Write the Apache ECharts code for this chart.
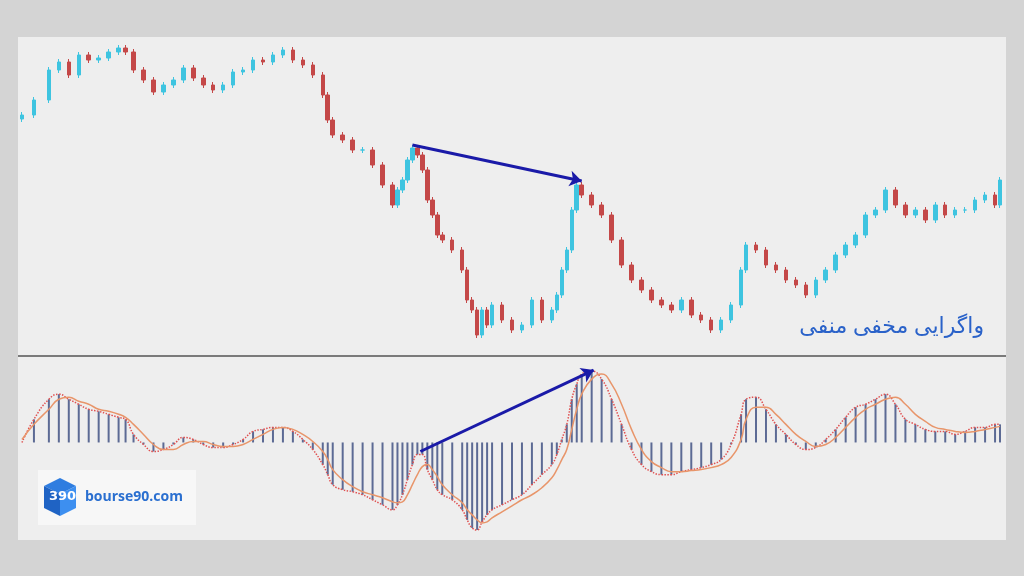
<!DOCTYPE html>
<html><head><meta charset="utf-8">
<script src="https://cdn.jsdelivr.net/npm/echarts@6/dist/echarts.min.js"></script>
<style>html,body{margin:0;background:#d4d4d4}#c{width:1024px;height:576px}</style>
</head><body><div id="c"></div>
<script>
// bar index (time position) of each sample
var days = [0,12,27,37,47,57,67,77,87,97,104,112,122,132,142,152,162,172,182,192,202,212,222,232,242,252,262,272,282,292,302,307,312,322,332,342,352,362,372,377,382,387,392,397,402,407,412,417,422,432,442,447,452,457,462,467,472,482,492,502,512,522,532,537,542,547,552,557,562,572,582,592,602,612,622,632,642,652,662,672,682,692,702,712,722,727,737,747,757,767,777,787,797,807,817,827,837,847,857,867,877,887,897,907,917,927,937,947,957,967,977,982];
var closes = [285,300,330,338,325,345,340,342,348,352,348,330,320,308,315,320,332,322,315,310,315,328,330,340,338,345,350,340,335,325,305,280,265,260,250,250,235,215,195,210,220,240,252,245,230,200,185,165,160,150,130,100,90,65,90,75,95,80,70,75,100,80,90,105,130,150,190,215,205,195,185,160,135,120,110,100,95,90,100,85,80,70,80,95,130,155,150,135,130,120,115,105,120,130,145,155,165,185,190,210,195,185,190,180,195,185,190,190,200,205,195,220];
var hist = [0,23,43,48,43,38,33,31,28,25,23,8,-2,-9,-7,-2,5,3,-2,-5,-5,-2,3,11,13,15,15,11,3,-7,-22,-32,-42,-47,-49,-52,-57,-62,-67,-62,-52,-37,-22,-12,-12,-27,-37,-47,-52,-57,-67,-77,-85,-87,-79,-72,-67,-62,-57,-52,-42,-32,-22,-12,3,18,43,58,68,71,63,43,18,-7,-22,-29,-32,-32,-29,-27,-25,-22,-17,-2,28,43,45,33,18,8,-2,-7,-5,3,13,25,35,38,43,48,38,23,18,13,11,11,8,11,15,15,18,18];
var signal = [3,18,33,43,45,41,38,33,31,28,25,18,8,-2,-7,-7,-2,1,1,-2,-4,-4,-2,3,8,13,15,13,8,1,-9,-17,-27,-37,-44,-49,-52,-55,-59,-60,-59,-52,-42,-32,-24,-22,-27,-34,-42,-52,-60,-67,-72,-77,-80,-79,-75,-69,-63,-57,-52,-45,-35,-27,-17,-7,13,33,48,63,68,58,38,13,-7,-19,-25,-29,-29,-28,-27,-25,-22,-15,3,23,35,35,28,18,8,1,-4,-2,5,15,25,33,38,43,45,38,28,21,15,13,11,10,11,13,15,16];

var candles = closes.map(function (c, i) {
  var o = i ? closes[i - 1] : c - 4;
  return [days[i], o, c, Math.min(o, c) - 3, Math.max(o, c) + 3];
});
var histData = days.map(function (d, i) { return [d, hist[i]]; });
var sigData = days.map(function (d, i) { return [d, signal[i]]; });

var chart = echarts.init(document.getElementById('c'));
var xa = { type: 'value', min: -4, max: 988, show: false };
chart.setOption({
  backgroundColor: '#d4d4d4',
  animation: false,
  grid: [
    { left: 18, right: 18, top: 37, height: 318, show: true, backgroundColor: '#eeeeee', borderWidth: 0 },
    { left: 18, right: 18, top: 357, bottom: 36, show: true, backgroundColor: '#eeeeee', borderWidth: 0 }
  ],
  xAxis: [Object.assign({ gridIndex: 0 }, xa), Object.assign({ gridIndex: 1 }, xa)],
  yAxis: [
    { gridIndex: 0, min: 45, max: 363, show: false },
    { gridIndex: 1, min: -97, max: 85, show: false }
  ],
  graphic: [
    { type: 'rect', shape: { x: 18, y: 355, width: 988, height: 2 }, style: { fill: '#7a7a7a' }, z: 10 },
    { type: 'text', right: 40, top: 316, style: { text: 'واگرایی مخفی منفی', fill: '#2a62c9', font: '22px "Noto Sans", "DejaVu Sans", sans-serif' } },
    { type: 'rect', shape: { x: 38, y: 470, width: 158, height: 55 }, style: { fill: '#f7f7f7' } },
    { type: 'polygon', shape: { points: [[44, 486], [60, 478], [76, 486], [60, 494]] }, style: { fill: '#2f7de0' } },
    { type: 'polygon', shape: { points: [[44, 486], [60, 494], [60, 516], [44, 508]] }, style: { fill: '#1f63c4' } },
    { type: 'polygon', shape: { points: [[60, 494], [76, 486], [76, 508], [60, 516]] }, style: { fill: '#3d8ff0' } },
    { type: 'text', x: 49, y: 490, style: { text: '390', fill: '#ffffff', font: 'bold 13px "DejaVu Sans", sans-serif' } },
    { type: 'text', x: 85, y: 490, style: { text: 'bourse90.com', fill: '#2a6fd0', font: 'bold 14px "Open Sans", sans-serif' } }
  ],
  series: [
    {
      type: 'candlestick', xAxisIndex: 0, yAxisIndex: 0, data: candles, barWidth: 4,
      itemStyle: { color: '#3ec4e0', color0: '#c44848', borderColor: '#3ec4e0', borderColor0: '#c44848' },
      markLine: {
        silent: true, symbol: ['none', 'arrow'], symbolSize: 12, label: { show: false },
        lineStyle: { color: '#1a1aa8', width: 3, type: 'solid' },
        data: [[{ coord: [392, 255] }, { coord: [562, 219] }]]
      }
    },
    {
      type: 'bar', xAxisIndex: 1, yAxisIndex: 1, data: histData, barWidth: 2,
      itemStyle: { color: '#5c6a94' }
    },
    {
      type: 'line', xAxisIndex: 1, yAxisIndex: 1, data: histData, symbol: 'none', smooth: true,
      lineStyle: { color: '#e05050', width: 1.5, type: 'dotted' }
    },
    {
      type: 'line', xAxisIndex: 1, yAxisIndex: 1, data: sigData, symbol: 'none', smooth: true,
      lineStyle: { color: '#e8956a', width: 1.5 },
      markLine: {
        silent: true, symbol: ['none', 'arrow'], symbolSize: 12, label: { show: false },
        lineStyle: { color: '#1a1aa8', width: 3, type: 'solid' },
        data: [[{ coord: [400, -9] }, { coord: [574, 72] }]]
      }
    }
  ]
});
</script></body></html>
